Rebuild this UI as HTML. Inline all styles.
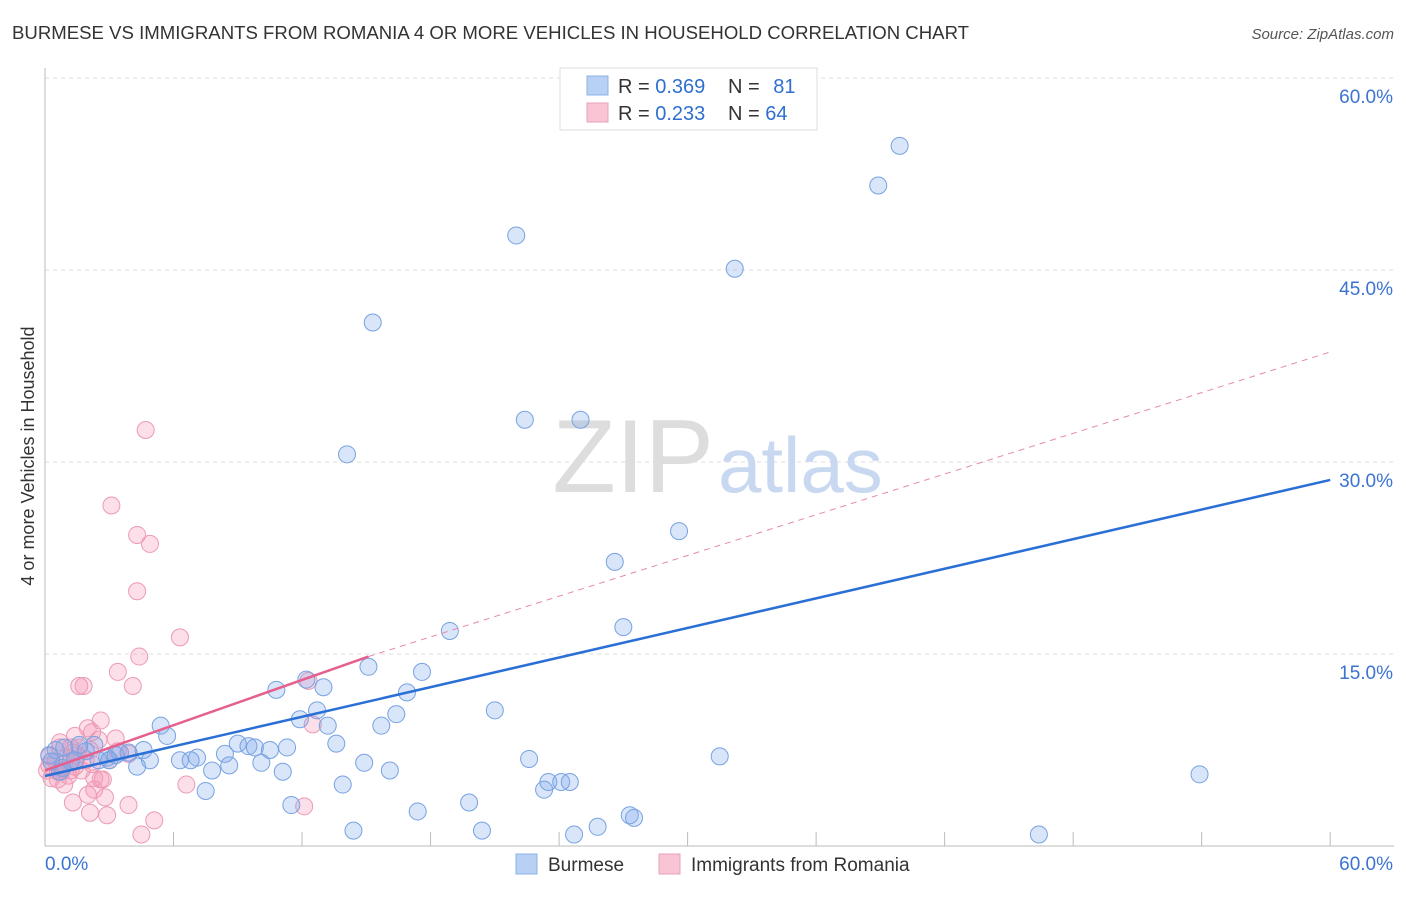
<!DOCTYPE html>
<html><head><meta charset="utf-8"><style>
body{margin:0;background:#fff;font-family:"Liberation Sans",sans-serif;}
svg text{font-family:"Liberation Sans",sans-serif;}
</style></head><body>
<svg width="1406" height="892" xmlns="http://www.w3.org/2000/svg">
<text x="12" y="39" font-size="18.6" fill="#333">BURMESE VS IMMIGRANTS FROM ROMANIA 4 OR MORE VEHICLES IN HOUSEHOLD CORRELATION CHART</text>
<text x="1394" y="39" font-size="15" fill="#555" font-style="italic" text-anchor="end">Source: ZipAtlas.com</text>
<g id="grid"></g>
<text x="714" y="492" font-size="104" fill="#ddd" text-anchor="end" font-family="Liberation Serif">ZIP</text>
<text x="718" y="492" font-size="78" fill="#c8d8f0">atlas</text>
<text transform="translate(34,456) rotate(-90)" font-size="18" fill="#333" text-anchor="middle">4 or more Vehicles in Household</text>
<g id="marks"></g>
<g>
<rect x="560" y="68" width="257" height="62" fill="#fff" stroke="#ddd"/>
<rect x="587" y="76" width="21" height="19" fill="#b7d0f3" stroke="#8db0e6"/>
<rect x="587" y="103" width="21" height="19" fill="#f9c5d5" stroke="#eba0b8"/>
<text x="618" y="93" font-size="20" fill="#333">R = <tspan fill="#2f6fd0">0.369</tspan></text>
<text x="728" y="93" font-size="20" fill="#333">N = <tspan fill="#2f6fd0" dx="8">81</tspan></text>
<text x="618" y="120" font-size="20" fill="#333">R = <tspan fill="#2f6fd0">0.233</tspan></text>
<text x="728" y="120" font-size="20" fill="#333">N = <tspan fill="#2f6fd0">64</tspan></text>
</g>
<g>
<rect x="516" y="854" width="21" height="20" fill="#b7d0f3" stroke="#8db0e6"/>
<text x="548" y="871" font-size="19" fill="#333">Burmese</text>
<rect x="659" y="854" width="21" height="20" fill="#f9c5d5" stroke="#eba0b8"/>
<text x="691" y="871" font-size="19" fill="#333">Immigrants from Romania</text>
</g>
</svg>
<script>
const yTicks=[15,30,45,60];
const xTickLabels=["0.0%","60.0%"];
const blueX=[39.9,38.9,22,32.2,15.3,14.1,22.4,25,29.6,26.6,27,18.9,15.1,17.6,12.2,10.8,13,16.9,21,12.7,16.4,11.9,13.2,15.7,5.4,5.7,13.6,9,9.5,9.8,11.3,10.5,8.4,4.6,7.1,6.3,6.8,4.9,10.1,8.6,4.3,3.5,31.5,22.6,14.9,11.1,16.1,7.8,7.5,13.9,23.5,24.1,24.5,23.3,53.9,11.5,19.8,17.4,27.3,27.5,25.8,14.4,20.4,24.7,46.4,2.3,2.9,2.5,1.2,0.7,0.5,0.2,0.9,1.9,1.4,3,3.9,0.8,0.3,3.3,1.6];
const blueY=[54.7,51.6,47.7,45.1,40.9,30.6,33.3,33.3,24.6,22.2,17.1,16.8,14,13.6,13,12.2,12.4,12,10.6,10.6,10.3,9.9,9.4,9.4,9.4,8.6,8,8,7.8,7.7,7.7,7.5,7.2,7.5,6.9,6.7,6.7,6.7,6.5,6.3,6.2,7.3,7,6.8,6.5,5.8,5.9,5.9,4.3,4.8,5,5,5,4.4,5.6,3.2,3.4,2.7,2.4,2.2,1.5,1.2,1.2,0.9,0.9,7.9,6.9,6.7,6.6,5.8,7.5,7.1,7.7,7.4,6.7,6.7,7.3,6.1,6.6,7.1,7.9];
const pinkX=[4.7,3.1,4.3,4.9,4.3,6.3,4.4,3.4,1.6,1.8,4.1,12.3,12.5,2.6,2,1.4,3.3,0.7,1.2,1.6,2.1,3.9,0.2,0.5,0.9,1.4,0.1,0.6,1.1,0.3,2.3,2.6,2.7,6.6,2.3,2,2.8,1.3,3.9,12.1,2.1,2.9,5.1,4.5,0.8,1,1.9,1.5,3.4,0.2,0.7,1.3,2.2,0.6,0.9,2.2,3,2.5,1.7,1.2];
const pinkY=[32.5,26.6,24.3,23.6,19.9,16.3,14.8,13.6,12.5,12.5,12.5,12.9,9.5,9.8,9.2,8.6,8.4,8.1,7.7,7.7,7.5,7.2,7,6.6,6.4,6.2,5.9,5.8,5.5,5.3,5.3,5.2,5.2,4.8,4.4,4,3.8,3.4,3.2,3.1,2.6,2.4,2,0.9,5.9,6.9,6.7,7.1,7.4,6.3,7.7,7.3,6.4,5.2,4.8,8.9,6.7,8.3,5.9,5.9];
const blueTrend=[5.47,28.6];
const pinkTrend=[5.9,14.8,15.1,38.6];
const X=v=>45+v*21.42, Y=v=>846-v*12.8;
const NS="http://www.w3.org/2000/svg";
function mk(t,a,p){const e=document.createElementNS(NS,t);for(const k in a)e.setAttribute(k,a[k]);p.appendChild(e);return e;}
const g=document.getElementById('grid'),m=document.getElementById('marks');
yTicks.forEach(t=>{
 const l=mk('line',{x1:45,x2:1394,y1:Y(t),y2:Y(t),stroke:'#ddd','stroke-dasharray':'4,4'},g);
 
 
 const tx=mk('text',{x:1393,y:Y(t)+25,'font-size':19,fill:'#3b73d1','text-anchor':'end'},g);tx.textContent=t.toFixed(1)+'%';
 
 
});
mk('line',{x1:45,x2:45,y1:68,y2:846,stroke:'#bbb'},g);
mk('line',{x1:45,x2:1394,y1:846,y2:846,stroke:'#bbb'},g);
for(let i=0;i<=10;i++){const t=mk('line',{x1:X(i*6),x2:X(i*6),y1:846,y2:832,stroke:'#bbb'},g);
 
 }
const x0=mk('text',{x:45,y:870,'font-size':19,fill:'#3b73d1'},g);x0.textContent=xTickLabels[0];


const x1=mk('text',{x:1393,y:870,'font-size':19,fill:'#3b73d1','text-anchor':'end'},g);x1.textContent=xTickLabels[1];


pinkX.forEach((v,i)=>{const c=mk('circle',{cx:X(v),cy:Y(pinkY[i]),r:8.5,fill:'rgba(244,150,180,0.3)',stroke:'#ec9ab5','stroke-width':1},m);
 
 });
blueX.forEach((v,i)=>{const c=mk('circle',{cx:X(v),cy:Y(blueY[i]),r:8.5,fill:'rgba(130,170,235,0.3)',stroke:'#77a2e2','stroke-width':1},m);
 
 });
const bl=mk('line',{x1:X(0),y1:Y(blueTrend[0]),x2:X(60),y2:Y(blueTrend[1]),stroke:'#2a6fd6','stroke-width':2.5},m);


const pd=mk('line',{x1:X(pinkTrend[2]),y1:Y(pinkTrend[1]),x2:X(60),y2:Y(pinkTrend[3]),stroke:'#e58aa8','stroke-width':1,'stroke-dasharray':'6,5'},m);


const pl=mk('line',{x1:X(0),y1:Y(pinkTrend[0]),x2:X(pinkTrend[2]),y2:Y(pinkTrend[1]),stroke:'#e5608e','stroke-width':2.5},m);


</script>
</body></html>
